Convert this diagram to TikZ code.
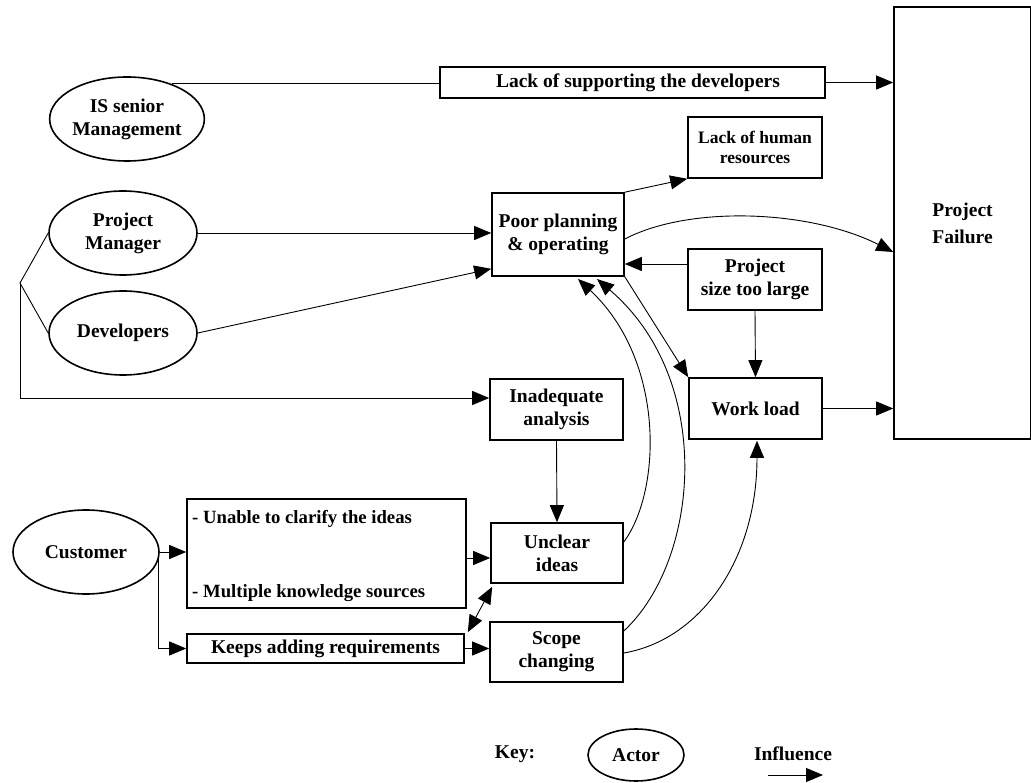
\documentclass[tikz,border=0pt]{standalone}
\usepackage{fontspec}
\setmainfont{Liberation Serif}
\usetikzlibrary{arrows.meta,calc,shapes.geometric}
\begin{document}
\begin{tikzpicture}[x=1pt,y=-1pt,
  every node/.style={inner sep=0pt,font=\bfseries\fontsize{19.5}{23}\selectfont},
  factor/.style={draw,line width=1.6pt,rectangle,align=center},
  actor/.style={draw,line width=1.6pt,ellipse,align=center},
  link/.style={line width=0.9pt},
  arr/.style={link,-{Triangle[length=17pt,width=14pt]}},
  arrtwo/.style={link,{Triangle[length=17pt,width=14pt]}-{Triangle[length=17pt,width=14pt]}}]
\useasboundingbox (0,0) rectangle (1031,783);

% actors
\node[actor,minimum width=146,minimum height=84] (ism) at (127,119) {IS senior\\Management};
\node[actor,minimum width=148,minimum height=84] (pm) at (123,233) {Project\\Manager};
\node[actor,minimum width=148,minimum height=84] (dev) at (123,333) {Developers};
\node[actor,minimum width=146,minimum height=84] (cus) at (86,552) {Customer};

% factors
\node[factor,minimum width=385,minimum height=31] (sup) at (632.5,82.5) {\hspace*{11pt}Lack of supporting the developers};
\node[factor,minimum width=134,minimum height=61,font=\bfseries\fontsize{17.5}{20}\selectfont] (hum) at (755,147.5) {Lack of human\\resources};
\node[factor,minimum width=132,minimum height=83] (ppo) at (558,234.5) {Poor planning\\\& operating};
\node[factor,minimum width=134,minimum height=61] (size) at (755,279.5) {Project\\size too large};
\node[factor,minimum width=133,minimum height=61] (wl) at (755.5,408.5) {Work load};
\node[factor,minimum width=137,minimum height=432,font=\bfseries\fontsize{19.5}{27}\selectfont] (fail) at (962.5,223) {Project\\Failure};
\node[factor,minimum width=133,minimum height=61] (ina) at (556.5,409.5) {Inadequate\\analysis};
\node[factor,minimum width=132,minimum height=60] (unc) at (557,553) {Unclear\\ideas};
\node[factor,minimum width=133,minimum height=60] (scp) at (556.5,652) {Scope\\changing};
\node[factor,minimum width=279,minimum height=109] (unab) at (326.5,553.5) {};
\node[anchor=west,font=\bfseries\fontsize{18.7}{22}\selectfont] (unabA) at (192,519) {- Unable to clarify the ideas};
\node[anchor=west,font=\bfseries\fontsize{18.7}{22}\selectfont] (unabB) at (192,593) {- Multiple knowledge sources};
\node[factor,minimum width=277,minimum height=29] (keep) at (325.5,648.5) {Keeps adding requirements};

% influences of the actors
\draw[link] (ism.38) -- (ism.38 -| sup.west);
\draw[arr] (sup.east) -- (sup.east -| fail.west);
\draw[arr] (pm.east) -- (pm.east -| ppo.west);
\draw[arr] (dev.east) -- ($(ppo.south west)+(0,-8)$);
\coordinate (fork) at (20,283);
\draw[link] (pm.west) -- (fork) -- (dev.west);
\coordinate (inaIn) at ($(ina.west)+(0,-11.5)$);
\draw[arr] (fork) |- (inaIn);

% planning and workload
\draw[arr] (ppo.north east) -- (hum.south west);
\draw[arr] ($(ppo.east)+(0,4.5)$) .. controls (690,205) and (810,210) .. (fail.west |- 0,252);
\coordinate (sizeOut) at ($(size.west)+(0,-15.5)$);
\draw[arr] (sizeOut) -- (sizeOut -| ppo.east);
\draw[arr] (size.south) -- (wl.north);
\draw[arr] (ppo.south east) -- (wl.north west);
\draw[arr] (wl.east) -- (wl.east -| fail.west);

% customer side
\draw[arr] (ina.south) -- (unc.north);
\draw[arr] (cus.east) -- (cus.east -| unab.west);
\draw[arr] ($(cus.east)+(-1,4)$) |- (keep.west);
\coordinate (uncIn) at ($(unc.west)+(0,5)$);
\draw[arr] (uncIn -| unab.east) -- (uncIn);
\draw[arrtwo] ($(keep.north east)+(3,-1)$) -- ($(unc.south west)+(2,3)$);
\draw[arr] (keep.east) -- (keep.east -| scp.west);

% feedback curves
\draw[arr] ($(unc.east)+(0,-11)$) .. controls (662,490) and (665,360) .. (578,279);
\draw[arr] ($(scp.east)+(0,-21)$) .. controls (700,560) and (715,380) .. (597,279);
\draw[arr] ($(scp.east)+(0,1)$) .. controls (700,640) and (757,560) .. ($(wl.south)+(1.5,1)$);

% key
\node (keyl) at (515,754) {Key:};
\node[actor,minimum width=96,minimum height=52] (keyactor) at (636,755) {Actor};
\node (keyinf) at (793,754) {Influence};
\coordinate (keyA) at (768,775);
\coordinate (keyB) at (823,775);
\draw[arr] (keyA) -- (keyB);
\end{tikzpicture}
\end{document}
